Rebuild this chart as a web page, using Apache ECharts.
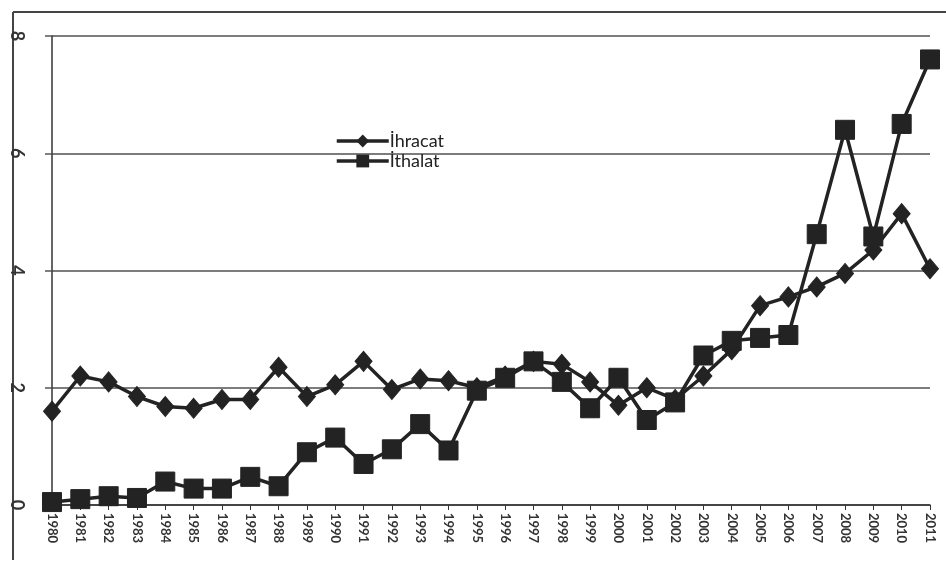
<!DOCTYPE html>
<html>
<head>
<meta charset="utf-8">
<script src="https://cdn.jsdelivr.net/npm/echarts@6/dist/echarts.min.js"></script>
<style>
html,body{margin:0;padding:0;background:#fff;}
#c{width:946px;height:563px;}
</style>
</head>
<body>
<div id="c"></div>
<script>
var years = ['1980','1981','1982','1983','1984','1985','1986','1987','1988','1989','1990','1991','1992','1993','1994','1995','1996','1997','1998','1999','2000','2001','2002','2003','2004','2005','2006','2007','2008','2009','2010','2011'];
var ihracat = [1.6, 2.2, 2.1, 1.85, 1.68, 1.65, 1.8, 1.8, 2.35, 1.85, 2.05, 2.45, 1.97, 2.15, 2.12, 2.0, 2.2, 2.45, 2.4, 2.1, 1.7, 2.0, 1.8, 2.2, 2.65, 3.4, 3.55, 3.72, 3.95, 4.35, 4.97, 4.03];
var ithalat = [0.05, 0.1, 0.15, 0.12, 0.4, 0.28, 0.28, 0.48, 0.32, 0.9, 1.15, 0.7, 0.95, 1.38, 0.93, 1.95, 2.17, 2.45, 2.1, 1.65, 2.17, 1.45, 1.75, 2.55, 2.8, 2.85, 2.9, 4.62, 6.4, 4.58, 6.5, 7.6];
var seriesNames = ['İhracat', 'İthalat'];
var yTicks = {min: 0, max: 8, interval: 2};

var chart = echarts.init(document.getElementById('c'), null, {renderer: 'canvas'});
var ink = '#232323';
chart.setOption({
  animation: false,
  backgroundColor: '#ffffff',
  textStyle: {fontFamily: 'Lato, "Open Sans", sans-serif'},
  graphic: [
    {type: 'line', shape: {x1: 13, y1: 12, x2: 946, y2: 12}, style: {stroke: '#444', lineWidth: 2}},
    {type: 'line', shape: {x1: 13, y1: 12, x2: 13, y2: 560}, style: {stroke: '#444', lineWidth: 2}}
  ],
  grid: {left: 52, right: 16, top: 36, bottom: 58, containLabel: false},
  legend: {
    orient: 'vertical',
    left: 330,
    top: 127,
    itemWidth: 52,
    itemHeight: 16,
    itemGap: 2,
    data: seriesNames,
    lineStyle: {width: 3.5},
    textStyle: {fontSize: 18, color: '#222', fontFamily: 'Lato, sans-serif', padding: [0,0,0,-4]}
  },
  xAxis: {
    type: 'category',
    data: years,
    boundaryGap: false,
    axisLine: {show: true, lineStyle: {color: '#333', width: 1.5}},
    axisTick: {show: true, alignWithLabel: true, length: 5, lineStyle: {color: '#333'}},
    axisLabel: {rotate: -90, interval: 0, fontSize: 13, color: '#333', margin: 8, fontWeight: 'bold'},
    splitLine: {show: false}
  },
  yAxis: {
    type: 'value',
    min: yTicks.min, max: yTicks.max, interval: yTicks.interval,
    axisLine: {show: true, lineStyle: {color: '#333', width: 1.5}},
    axisTick: {show: true, length: 7, lineStyle: {color: '#555', width: 1.5}},
    axisLabel: {rotate: -90, fontSize: 18, color: '#333', margin: 26, fontWeight: 'bold'},
    splitLine: {show: true, lineStyle: {color: '#505050', width: 1.5}}
  },
  series: [
    {
      name: seriesNames[0], type: 'line', data: ihracat,
      symbol: 'diamond', symbolSize: [17, 20], showAllSymbol: true,
      lineStyle: {color: ink, width: 3.5},
      itemStyle: {color: ink, borderColor: ink},
      z: 2
    },
    {
      name: seriesNames[1], type: 'line', data: ithalat,
      symbol: 'rect', symbolSize: [19, 19], showAllSymbol: true,
      lineStyle: {color: ink, width: 3.5},
      itemStyle: {color: ink, borderColor: ink},
      z: 3
    }
  ]
});
</script>
</body>
</html>
